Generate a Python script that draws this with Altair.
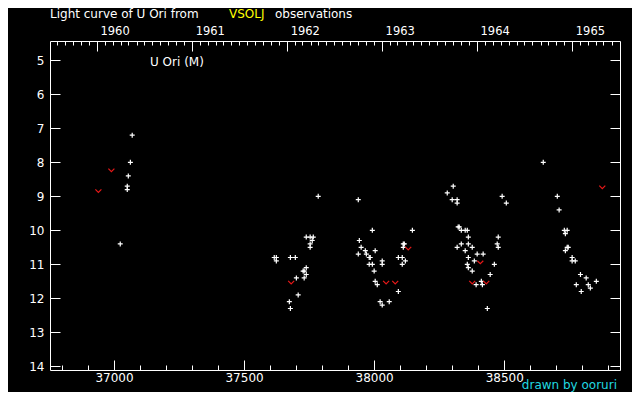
import altair as alt
import pandas as pd

# white plus: visual observations (JD - 2400000, magnitude)
obs_jd = [37070, 37063, 37055, 37051, 37051, 37024,
          37785, 37739, 37754, 37766, 37762, 37754, 37754, 37616, 37624, 37624, 37678, 37697,
          37739, 37727, 37731, 37739, 37701, 37731, 37708, 37674, 37678,
          37939, 37993, 38147, 37943, 37950, 37966, 38004, 37939, 37970, 37981, 37985, 38031,
          38031, 37981, 37993, 38000, 38112, 38116, 38112, 38093, 38108, 38120, 38108, 38004,
          38012, 38093, 38023, 38058, 38031,
          38304, 38281, 38300, 38319, 38319, 38492, 38508, 38323, 38327, 38335, 38350, 38358,
          38362, 38477, 38335, 38362, 38473, 38477, 38319, 38377, 38350, 38396, 38419, 38362,
          38385, 38358, 38362, 38462, 38377, 38446, 38412, 38392, 38416, 38435,
          38650, 38704, 38711, 38731, 38742, 38735, 38742, 38746, 38735, 38761, 38761, 38773,
          38793, 38815, 38777, 38823, 38854, 38831, 38796]
obs_mag = [7.2, 8.0, 8.4, 8.7, 8.8, 10.4,
           9.0, 10.2, 10.2, 10.2, 10.3, 10.4, 10.5, 10.8, 10.8, 10.9, 10.8, 10.8,
           11.1, 11.2, 11.2, 11.3, 11.4, 11.4, 11.9, 12.1, 12.3,
           9.1, 10.0, 10.0, 10.3, 10.5, 10.6, 10.6, 10.7, 10.7, 10.8, 10.8, 10.9,
           11.0, 11.0, 11.0, 11.2, 10.4, 10.4, 10.5, 10.8, 10.8, 10.9, 11.0, 11.5,
           11.6, 11.8, 12.1, 12.1, 12.2,
           8.7, 8.9, 9.1, 9.1, 9.2, 9.0, 9.2, 9.9, 9.9, 10.0, 10.0, 10.0,
           10.2, 10.2, 10.4, 10.4, 10.4, 10.5, 10.5, 10.5, 10.6, 10.7, 10.7, 10.8,
           10.9, 11.0, 11.1, 11.0, 11.2, 11.3, 11.5, 11.6, 11.6, 12.3,
           8.0, 9.0, 9.4, 10.0, 10.0, 10.1, 10.5, 10.5, 10.6, 10.8, 10.9, 10.9,
           11.3, 11.4, 11.6, 11.6, 11.5, 11.7, 11.8]

# red "v": fainter-than observations
lim_jd = [36990, 36940, 37681, 38131, 38046, 38081, 38408, 38377, 38431, 38877]
lim_mag = [8.23, 8.84, 11.53, 10.53, 11.53, 11.53, 10.94, 11.53, 11.53, 8.73]

x_major = [37000, 37500, 38000, 38500]
x_minor = list(range(36800, 39000, 100))
y_ticks = [5, 6, 7, 8, 9, 10, 11, 12, 13, 14]
years = [1960, 1961, 1962, 1963, 1964, 1965]

def to_jd(ts):
    return (ts - pd.Timestamp("1858-11-17")).days + 0.5

year_jd = [to_jd(pd.Timestamp(f"{y}-01-01")) for y in years]
month_jd = [to_jd(t) for t in pd.date_range("1959-08-01", "1965-06-01", freq="MS")]

X_DOM = [36754, 38945]
Y_DOM = [4.43, 14.11]

obs = pd.DataFrame({"jd": obs_jd, "mag": obs_mag})
lim = pd.DataFrame({"jd": lim_jd, "mag": lim_mag})

xs = alt.Scale(domain=X_DOM, nice=False, zero=False)
ys = alt.Scale(domain=Y_DOM, reverse=True, nice=False, zero=False)

common = dict(grid=False, domain=False, title=None, tickColor="white", labelColor="white",
              labelFont="DejaVu Sans", tickWidth=1)

plus = "M-1,0H1M0,-1V1"
vee = "M-1,-0.5L0,0.5L1,-0.5"

white = alt.Chart(obs).mark_point(shape=plus, size=25, filled=False, stroke="white",
                                  strokeWidth=1.2, opacity=1).encode(
    x=alt.X("jd:Q", scale=xs, axis=alt.Axis(orient="bottom", values=x_major, tickSize=10,
                                            offset=-10, labelPadding=2, format="d",
                                            labelFontSize=12, **common)),
    y=alt.Y("mag:Q", scale=ys, axis=alt.Axis(orient="left", values=y_ticks, tickSize=10,
                                             offset=-10, labelPadding=6, labelFontSize=12,
                                             **common)),
)

red = alt.Chart(lim).mark_point(shape=vee, size=36, filled=False, stroke="#e81818",
                                strokeWidth=1.2, opacity=1).encode(
    x=alt.X("jd:Q", scale=xs, axis=alt.Axis(orient="bottom", values=x_minor, tickSize=5,
                                            offset=-5, labels=False, **common)),
    y=alt.Y("mag:Q", scale=ys, axis=alt.Axis(orient="right", values=y_ticks, tickSize=10,
                                             offset=-10, labels=False, **common)),
)

top_year = alt.Chart(obs).mark_point(opacity=0).encode(
    x=alt.X("jd:Q", scale=xs, axis=alt.Axis(orient="top", values=year_jd, tickSize=10,
                                            offset=-10, labelPadding=5, labelAlign="left",
                                            labelOffset=3, labelFontSize=11.5,
                                            labelExpr="format(floor((datum.value - 36934.5)/365.25 + 0.01) + 1960, 'd')",
                                            **common)),
    y=alt.Y("mag:Q", scale=ys, axis=None),
)

top_month = alt.Chart(lim).mark_point(opacity=0).encode(
    x=alt.X("jd:Q", scale=xs, axis=alt.Axis(orient="top", values=month_jd, tickSize=4,
                                            offset=-4, labels=False, **common)),
    y=alt.Y("mag:Q", scale=ys, axis=None),
)

def label(txt, x, y, color, align="left"):
    return alt.Chart(pd.DataFrame({"t": [txt]})).mark_text(
        font="DejaVu Sans", fontSize=12, color=color, align=align, baseline="middle"
    ).encode(text="t:N", x=alt.value(x), y=alt.value(y))

texts = [
    label("Light curve of U Ori from", 0, -27, "white"),
    label("VSOLJ", 179, -27, "#ffff00"),
    label("observations", 225, -27, "white"),
    label("U Ori (M)", 100, 21, "white"),
    label("drawn by ooruri", 567, 344, "#20d8e0", align="right"),
]

chart = alt.layer(white, red, top_year, top_month, *texts).resolve_scale(
    x="shared", y="shared"
).resolve_axis(x="independent", y="independent").properties(
    width=570, height=329,
    autosize=alt.AutoSizeParams(type="none"),
    padding={"left": 42, "top": 33, "right": 12, "bottom": 22},
    background="black",
).configure_view(stroke="white", strokeWidth=1)

chart.save("out.html", embed_options={"renderer": "svg", "actions": False})
